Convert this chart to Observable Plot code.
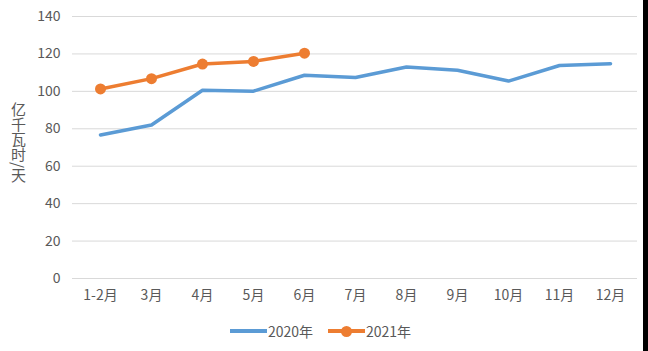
<!DOCTYPE html>
<html>
<head>
<meta charset="utf-8">
<script src="https://cdn.jsdelivr.net/npm/d3@7"></script>
<script src="https://cdn.jsdelivr.net/npm/@observablehq/plot@0.6"></script>
<style>
  html, body { margin: 0; padding: 0; background: #fff; }
  body { width: 648px; height: 351px; position: relative; overflow: hidden;
         font-family: "Noto Sans CJK SC", "Noto Sans", sans-serif; }
  #ylabel { position: absolute; left: 10px; top: 102px; writing-mode: vertical-rl;
            font-size: 15px; color: #595959; line-height: 16px; letter-spacing: 0; }
  #legend { position: absolute; top: 321px; left: 0; width: 641px; height: 20px;
            display: flex; justify-content: center; gap: 15px; font-size: 14px; color: #595959; }
  .item { display: flex; align-items: center; }
  .sw { width: 37px; height: 4px; position: relative; margin-right: 1px; }
  .dot { position: absolute; left: 13px; top: -3.5px; width: 11px; height: 11px; border-radius: 50%; }
  #edge { position: absolute; right: 0; top: 0; width: 5px; height: 351px; background: #000; }
</style>
</head>
<body>
<div id="chart"></div>
<div id="ylabel">亿千瓦时/天</div>
<div id="legend"></div>
<div id="edge"></div>
<script>
const months = ["1-2月","3月","4月","5月","6月","7月","8月","9月","10月","11月","12月"];
const values2020 = [76.7, 82.0, 100.6, 100.1, 108.6, 107.4, 113.0, 111.3, 105.5, 113.8, 114.8];
const months2021 = ["1-2月","3月","4月","5月","6月"];
const values2021 = [101.3, 106.8, 114.6, 116.0, 120.4];
const yTicks = [0, 20, 40, 60, 80, 100, 120, 140];
const seriesNames = ["2020年", "2021年"];
const seriesColors = ["#5B9BD5", "#ED7D31"];

const d2020 = months.map((m, i) => ({month: m, value: values2020[i]}));
const d2021 = months2021.map((m, i) => ({month: m, value: values2021[i]}));

const chart = Plot.plot({
  width: 648,
  height: 310,
  marginTop: 16,
  marginBottom: 32,
  marginLeft: 72,
  marginRight: 11,
  style: {fontFamily: '"Noto Sans CJK SC", "Noto Sans", sans-serif', fontSize: "14px", color: "#595959", background: "#fff"},
  x: {type: "point", domain: months, padding: 0.5, label: null},
  y: {domain: [0, 140], ticks: yTicks, label: null},
  marks: [
    Plot.gridY(yTicks, {stroke: "#d9d9d9", strokeOpacity: 1, strokeWidth: 1}),
    Plot.axisY(yTicks, {tickSize: 0, tickPadding: 12, fontSize: 14, fill: "#595959", label: null}),
    Plot.axisX({tickSize: 0, tickPadding: 12, fontSize: 14, fill: "#595959", label: null}),
    Plot.line(d2020, {x: "month", y: "value", stroke: seriesColors[0], strokeWidth: 3.5}),
    Plot.line(d2021, {x: "month", y: "value", stroke: seriesColors[1], strokeWidth: 3.5}),
    Plot.dot(d2021, {x: "month", y: "value", fill: seriesColors[1], r: 5.5})
  ]
});
document.getElementById("chart").appendChild(chart);

const legend = document.getElementById("legend");
seriesNames.forEach((name, i) => {
  const item = document.createElement("div");
  item.className = "item";
  const sw = document.createElement("div");
  sw.className = "sw";
  sw.style.background = seriesColors[i];
  if (i === 1) {
    const dot = document.createElement("div");
    dot.className = "dot";
    dot.style.background = seriesColors[i];
    sw.appendChild(dot);
  }
  item.appendChild(sw);
  const t = document.createElement("span");
  t.textContent = name;
  item.appendChild(t);
  legend.appendChild(item);
});
</script>
</body>
</html>
